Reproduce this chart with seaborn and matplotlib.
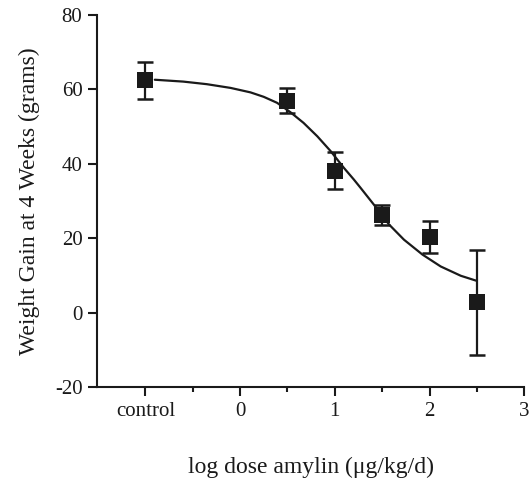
import matplotlib
matplotlib.use("Agg")
import matplotlib.pyplot as plt
import seaborn as sns
import pandas as pd
from matplotlib.ticker import FixedLocator

# Data
dose_x = [-1.0, 0.5, 1.0, 1.5, 2.0, 2.5]
gain = [62.5, 56.9, 38.2, 26.2, 20.2, 2.8]
err_upper = [67.3, 60.4, 43.2, 28.8, 24.5, 16.9]
err_lower = [57.3, 53.7, 33.2, 23.6, 15.9, -11.4]

fit_x = [-0.9, -0.6, -0.35, -0.1, 0.11, 0.25, 0.39, 0.53, 0.67, 0.815, 0.956,
         1.096, 1.2, 1.273, 1.413, 1.572, 1.73, 1.925, 2.118, 2.33, 2.49]
fit_y = [62.6, 62.1, 61.4, 60.4, 59.2, 58.0, 56.4, 53.9, 51.0, 47.4, 43.4,
         38.9, 35.8, 33.5, 29.0, 23.7, 19.6, 15.6, 12.4, 9.9, 8.6]

xtick_pos = [-1, 0, 1, 2, 3]
xtick_labels = ["control", "0", "1", "2", "3"]
xminor_pos = [-0.5, 0.5, 1.5, 2.5]
ytick_pos = [-20, 0, 20, 40, 60, 80]

sns.set_style("ticks")
plt.rcParams["font.family"] = ["Liberation Serif", "DejaVu Serif"]

fig = plt.figure(figsize=(5.29, 4.84), dpi=100)
ax = fig.add_axes([0.1834, 0.2004, 0.8077, 0.7686])

pts = pd.DataFrame({"x": dose_x, "y": gain,
                    "lo": [g - l for g, l in zip(gain, err_lower)],
                    "hi": [u - g for g, u in zip(gain, err_upper)]})
fit = pd.DataFrame({"x": fit_x, "y": fit_y})

sns.lineplot(data=fit, x="x", y="y", ax=ax, color="#1a1a1a", linewidth=1.6,
             sort=False, estimator=None)
ax.errorbar(pts["x"], pts["y"], yerr=[pts["lo"], pts["hi"]], fmt="none",
            ecolor="#1a1a1a", elinewidth=1.6, capsize=6, capthick=1.8, zorder=3)
sns.scatterplot(data=pts, x="x", y="y", ax=ax, marker="s", s=125,
                color="#1a1a1a", edgecolor="#1a1a1a", linewidth=0, zorder=4)

ax.set_xlim(-1.51, 3.0)
ax.set_ylim(-20, 80)
ax.xaxis.set_major_locator(FixedLocator(xtick_pos))
ax.set_xticklabels(xtick_labels)
ax.xaxis.set_minor_locator(FixedLocator(xminor_pos))
ax.set_yticks(ytick_pos)
ax.set_yticklabels([str(v) if v >= 0 else "-" + str(abs(v)) for v in ytick_pos])

for s in ["top", "right"]:
    ax.spines[s].set_visible(False)
for s in ["left", "bottom"]:
    ax.spines[s].set_linewidth(1.5)
    ax.spines[s].set_color("#1a1a1a")

ax.tick_params(axis="both", which="major", direction="out", length=6.5,
               width=1.5, color="#1a1a1a", labelsize=15, pad=4,
               labelcolor="#1a1a1a")
ax.tick_params(axis="x", which="minor", direction="out", length=3.6,
               width=1.5, color="#1a1a1a")

ax.set_xlabel("log dose amylin (μg/kg/d)", fontsize=17, labelpad=26,
              color="#1a1a1a")
ax.set_ylabel("Weight Gain at 4 Weeks (grams)", fontsize=17, labelpad=11,
              color="#1a1a1a")

fig.savefig("out.png", dpi=100)
